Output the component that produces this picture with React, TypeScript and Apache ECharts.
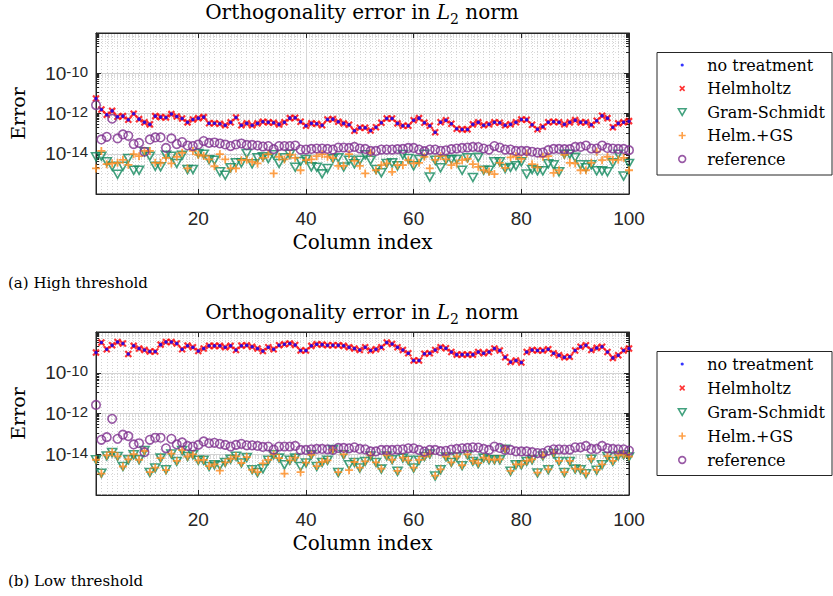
import React, { useEffect, useRef } from "react";
import * as echarts from "echarts";

// ---------- data (log10 of the orthogonality error, columns 1..100) ----------
const seriesNames = ["no treatment", "Helmholtz", "Gram-Schmidt", "Helm.+GS", "reference"];
const xTickValues = [20, 40, 60, 80, 100];
const yLabelExponents = [-14, -12, -10];
const captions = ["(a) High threshold", "(b) Low threshold"];
const panelTitle = "Orthogonality error in {it|L}{sub|2} norm";

const highHelmholtz = [
  -11.25, -11.8, -12.06, -11.87, -12.16, -12.13, -12.31, -12.01, -12.28, -12.44,
  -12.54, -12.13, -12.18, -12.2, -12.03, -12.15, -12.25, -12.44, -12.3, -12.23,
  -12.18, -12.48, -12.48, -12.51, -12.58, -12.44, -12.2, -12.58, -12.49, -12.58,
  -12.49, -12.41, -12.44, -12.46, -12.54, -12.43, -12.23, -12.21, -12.41, -12.61,
  -12.49, -12.51, -12.58, -12.3, -12.28, -12.41, -12.49, -12.56, -12.86, -12.71,
  -12.71, -12.84, -12.68, -12.46, -12.25, -12.25, -12.49, -12.61, -12.61, -12.34,
  -12.23, -12.46, -12.61, -12.93, -12.43, -12.34, -12.51, -12.76, -12.79, -12.79,
  -12.54, -12.44, -12.58, -12.53, -12.43, -12.46, -12.58, -12.53, -12.43, -12.3,
  -12.31, -12.56, -12.78, -12.66, -12.43, -12.41, -12.43, -12.53, -12.44, -12.33,
  -12.44, -12.44, -12.56, -12.36, -12.11, -12.23, -12.68, -12.49, -12.43, -12.38,
];
// "no treatment" coincides with Helmholtz in this run
const highNoTreatment = highHelmholtz;
const highGramSchmidt = [
  -14.15, -14.12, -14.4, -14.62, -15.02, -14.62, -14.24, -14.82, -14.82, -13.9,
  -14.12, -14.62, -14.65, -14.07, -14.12, -14.48, -14.07, -14.78, -14.78, -13.99,
  -14.02, -14.3, -14.32, -14.9, -15.07, -14.7, -14.45, -14.45, -13.99, -14.5,
  -14.2, -14.15, -14.24, -14.05, -14.48, -14.2, -14.03, -14.67, -14.38, -14.28,
  -14.65, -14.67, -15.0, -14.73, -14.25, -14.2, -14.66, -14.32, -14.5, -14.32,
  -14.05, -14.32, -14.78, -14.95, -14.48, -14.45, -14.6, -14.04, -14.24, -14.6,
  -14.28, -14.02, -15.16, -14.32, -14.7, -14.3, -14.28, -14.28, -14.82, -14.2,
  -15.18, -14.18, -14.82, -14.82, -14.4, -14.4, -14.73, -14.68, -14.6, -14.4,
  -15.01, -14.78, -14.85, -14.85, -14.5, -14.55, -14.9, -14.02, -14.02, -14.18,
  -14.55, -14.7, -14.55, -14.85, -14.85, -14.9, -14.45, -14.02, -15.11, -14.48,
];
const highHelmGS = [
  -14.73, -13.86, -14.52, -14.48, -14.45, -14.3, -14.55, -14.02, -14.12, -13.86,
  -13.86, -14.45, -14.45, -14.2, -14.48, -14.15, -13.95, -14.73, -13.86, -14.05,
  -14.1, -14.28, -14.62, -14.02, -14.28, -14.73, -14.73, -14.32, -14.3, -14.4,
  -14.48, -14.2, -14.02, -14.98, -14.15, -14.28, -14.05, -14.2, -14.82, -14.32,
  -14.28, -14.12, -14.02, -14.15, -14.22, -14.6, -14.6, -14.02, -14.35, -14.6,
  -14.98, -13.95, -14.82, -14.57, -14.48, -14.9, -14.57, -14.57, -14.32, -14.48,
  -14.45, -14.15, -14.73, -14.3, -14.12, -14.28, -14.57, -14.48, -14.32, -14.25,
  -14.52, -14.65, -14.82, -14.9, -15.01, -14.45, -14.7, -14.18, -14.12, -14.25,
  -13.99, -14.52, -14.68, -14.15, -14.12, -14.95, -14.82, -14.05, -14.45, -14.48,
  -14.82, -14.82, -14.45, -13.9, -14.32, -14.15, -14.3, -14.3, -14.2, -14.82,
];
const reference = [
  -11.58, -13.29, -13.16, -12.26, -13.24, -13.04, -13.11, -13.52, -13.46, -13.9,
  -13.29, -13.19, -13.19, -13.71, -13.24, -13.52, -13.42, -13.59, -13.62, -13.54,
  -13.37, -13.46, -13.44, -13.49, -13.54, -13.62, -13.54, -13.49, -13.56, -13.56,
  -13.59, -13.64, -13.62, -13.77, -13.62, -13.62, -13.62, -13.59, -13.79, -13.79,
  -13.76, -13.74, -13.74, -13.76, -13.79, -13.69, -13.69, -13.71, -13.66, -13.74,
  -13.76, -13.86, -13.86, -13.79, -13.79, -13.79, -13.77, -13.76, -13.71, -13.71,
  -13.79, -13.87, -13.79, -13.79, -13.85, -13.83, -13.77, -13.74, -13.71, -13.69,
  -13.66, -13.67, -13.74, -13.79, -13.62, -13.69, -13.79, -13.79, -13.86, -13.86,
  -13.86, -13.9, -13.94, -13.94, -13.82, -13.76, -13.76, -13.77, -13.77, -13.66,
  -13.66, -13.59, -13.74, -13.74, -13.59, -13.71, -13.74, -13.76, -13.76, -13.82,
];

const lowHelmholtz = [
  -9.01, -8.52, -8.85, -8.65, -8.49, -8.56, -9.08, -8.68, -8.81, -8.88,
  -8.96, -8.96, -8.62, -8.49, -8.49, -8.56, -8.85, -8.67, -8.75, -8.93,
  -8.81, -8.68, -8.68, -8.68, -8.75, -8.68, -8.88, -8.67, -8.65, -8.72,
  -8.81, -8.93, -8.75, -8.85, -8.65, -8.6, -8.56, -8.64, -8.91, -8.91,
  -8.68, -8.6, -8.62, -8.65, -8.65, -8.65, -8.68, -8.75, -8.81, -8.88,
  -8.75, -8.91, -8.85, -8.75, -8.52, -8.59, -8.75, -8.88, -9.04, -9.4,
  -9.4, -9.07, -9.04, -8.88, -8.75, -8.8, -8.98, -9.11, -9.11, -9.11,
  -9.11, -8.98, -9.04, -8.98, -8.81, -8.91, -9.24, -9.47, -9.4, -9.5,
  -8.98, -8.88, -8.91, -8.91, -8.85, -9.04, -9.14, -9.24, -9.21, -8.91,
  -8.72, -8.65, -8.88, -8.78, -8.72, -8.98, -9.27, -9.14, -8.91, -8.81,
];
const lowNoTreatment = lowHelmholtz;
const lowGramSchmidt = [
  -14.27, -14.93, -14.08, -13.92, -14.11, -14.6, -14.27, -14.03, -14.27, -13.82,
  -14.9, -14.68, -14.19, -14.76, -13.99, -14.35, -13.82, -14.11, -14.03, -14.3,
  -14.3, -14.6, -14.52, -14.55, -14.4, -14.24, -14.1, -14.43, -14.16, -14.76,
  -14.9, -14.71, -14.3, -14.03, -14.19, -14.52, -14.3, -14.19, -14.6, -14.43,
  -14.03, -14.6, -14.4, -14.3, -13.77, -14.9, -14.03, -14.52, -14.4, -14.68,
  -14.35, -14.08, -14.4, -14.73, -14.08, -14.27, -14.84, -14.19, -14.3, -14.68,
  -14.3, -14.11, -13.99, -15.07, -14.76, -14.13, -14.4, -14.13, -14.56, -14.03,
  -14.35, -14.46, -14.19, -14.27, -14.27, -14.27, -13.75, -14.84, -14.52, -14.52,
  -14.35, -14.27, -14.92, -14.08, -14.76, -13.96, -14.35, -14.9, -14.35, -14.73,
  -14.76, -14.96, -14.24, -14.79, -14.52, -14.11, -14.35, -14.08, -14.03, -14.13,
];
const lowHelmGS = [
  -14.27, -14.95, -14.06, -13.9, -14.1, -14.6, -14.25, -14.0, -14.27, -13.84,
  -14.88, -14.66, -14.19, -14.78, -13.97, -14.33, -13.8, -14.11, -14.01, -14.3,
  -14.28, -14.58, -14.5, -14.8, -14.4, -14.22, -14.1, -14.43, -14.14, -14.76,
  -14.88, -14.45, -14.28, -14.01, -14.19, -14.95, -14.3, -14.17, -14.88, -14.41,
  -14.03, -14.58, -14.38, -14.3, -13.79, -14.88, -14.01, -14.78, -14.38, -14.66,
  -14.35, -14.06, -14.4, -14.71, -14.06, -14.27, -14.82, -14.17, -14.3, -14.66,
  -14.28, -14.11, -13.97, -15.05, -14.74, -14.11, -14.4, -14.11, -14.54, -14.01,
  -14.33, -14.44, -14.17, -14.25, -14.27, -14.25, -13.73, -14.82, -14.5, -14.5,
  -14.33, -14.25, -14.9, -14.06, -14.74, -13.94, -14.33, -14.88, -14.33, -14.71,
  -14.74, -14.94, -14.22, -14.77, -14.5, -14.09, -14.33, -14.06, -14.01, -14.11,
];

// ---------- styling ----------
const AX = "#262626";
const SERIF = "DejaVu Serif";
const SANS = "Liberation Sans";
const BLUE = "#0000ff";
const RED = "#ff0000";
const GREEN = "#138a5e";
const ORANGE = "#ff8a1c";
const PURPLE = "#7e2f8e";
const CLEAR = "rgba(0,0,0,0)";

const X_SYMBOL = "path://M0,0L10,10M10,0L0,10";
const PLUS_SYMBOL = "path://M5,0L5,10M0,5L10,5";

const LEGEND_ICON: Record<string, string> = {
  "no treatment": "path://M0,0M10,10M5,3.4A1.6,1.6,0,1,1,5,6.6A1.6,1.6,0,1,1,5,3.4Z",
  Helmholtz: "path://M0,0M10,10M2.6,2.6L7.4,7.4M7.4,2.6L2.6,7.4",
  "Gram-Schmidt": "path://M0,0M10,10M1.2,1.8L8.8,1.8L5,8.4Z",
  "Helm.+GS": "path://M0,0M10,10M5,1.5L5,8.5M1.5,5L8.5,5",
  reference: "path://M0,0M10,10M5,1.6A3.4,3.4,0,1,1,5,8.4A3.4,3.4,0,1,1,5,1.6Z",
};
const LEGEND_STYLE: Record<string, any> = {
  "no treatment": { color: BLUE, borderWidth: 0 },
  Helmholtz: { color: CLEAR, borderColor: RED, borderWidth: 1.6 },
  "Gram-Schmidt": { color: CLEAR, borderColor: GREEN, borderWidth: 1.6 },
  "Helm.+GS": { color: CLEAR, borderColor: ORANGE, borderWidth: 1.6 },
  reference: { color: CLEAR, borderColor: PURPLE, borderWidth: 1.6 },
};

const GRIDS = [
  { left: 96, top: 33, width: 533, height: 161 },
  { left: 96, top: 332, width: 533, height: 163 },
];
const TITLE_TOP = [0, 300];
const LEGEND_TOP = [55, 354];
const LEGEND_GAP = [3.5, 4];
const LEGEND_BOX = [
  { y: 52.5, h: 122.5 },
  { y: 351.5, h: 124 },
];
const CAPTION_Y = [283, 581];

const toPoints = (exps: number[]) => exps.map((e, i) => [i + 1, Math.pow(10, e)]);

const panels = [
  { helm: highHelmholtz, none: highNoTreatment, gs: highGramSchmidt, hgs: highHelmGS, ref: reference },
  { helm: lowHelmholtz, none: lowNoTreatment, gs: lowGramSchmidt, hgs: lowHelmGS, ref: reference },
];

function buildOption() {
  const xAxis: any[] = [];
  const yAxis: any[] = [];
  const series: any[] = [];
  const title: any[] = [];
  const legend: any[] = [];
  const graphic: any[] = [];

  panels.forEach((p, gi) => {
    xAxis.push(
      {
        gridIndex: gi, type: "value", min: 1, max: 100, position: "bottom",
        name: "Column index", nameLocation: "middle", nameGap: 38,
        nameTextStyle: { fontFamily: SERIF, fontSize: 20, color: "#000" },
        axisLine: { show: true, lineStyle: { color: AX, width: 1 } },
        axisTick: { show: true, inside: true, length: 5, customValues: xTickValues, lineStyle: { color: AX } },
        axisLabel: { customValues: xTickValues, fontFamily: SANS, fontSize: 19, color: AX, margin: 15 },
        splitLine: { show: true, lineStyle: { color: "#d6d6d6", width: 1 } },
        minorTick: { show: false, splitNumber: 20 },
        minorSplitLine: { show: true, lineStyle: { color: "#d2d2d2", width: 1, type: [1, 2] } },
      },
      {
        gridIndex: gi, type: "value", min: 1, max: 100, position: "top",
        axisLine: { show: true, lineStyle: { color: AX, width: 1 } },
        axisTick: { show: true, inside: true, length: 5, customValues: xTickValues, lineStyle: { color: AX } },
        axisLabel: { show: false },
        splitLine: { show: false },
      }
    );
    yAxis.push(
      {
        gridIndex: gi, type: "log", logBase: 10, min: 1e-16, max: 1e-8, interval: 2, position: "left",
        name: "Error", nameLocation: "middle", nameGap: 69, nameRotate: 90,
        nameTextStyle: { fontFamily: SERIF, fontSize: 19, color: "#000" },
        axisLine: { show: true, lineStyle: { color: AX, width: 1 } },
        axisTick: { show: true, inside: true, length: 5, lineStyle: { color: AX } },
        minorTick: { show: true, splitNumber: 10, length: 3, lineStyle: { color: AX } },
        axisLabel: {
          margin: 8,
          formatter: (v: number) => {
            const e = Math.round(Math.log10(v));
            return yLabelExponents.includes(e) ? `{b|10}{s|${e}}` : "";
          },
          rich: {
            b: { fontFamily: SANS, fontSize: 19, color: AX, lineHeight: 19, verticalAlign: "bottom" },
            s: { fontFamily: SANS, fontSize: 15, color: AX, lineHeight: 15, padding: [0, 0, 7, 0], verticalAlign: "top" },
          },
        },
        splitLine: { show: true, lineStyle: { color: "#d2d2d2", width: 1 } },
        minorSplitLine: { show: true, lineStyle: { color: "#dadada", width: 1, type: [1, 2] } },
      },
      {
        gridIndex: gi, type: "log", logBase: 10, min: 1e-16, max: 1e-8, interval: 2, position: "right",
        axisLine: { show: true, lineStyle: { color: AX, width: 1 } },
        axisTick: { show: true, inside: true, length: 5, lineStyle: { color: AX } },
        minorTick: { show: true, splitNumber: 10, length: 3, lineStyle: { color: AX } },
        axisLabel: { show: false },
        splitLine: { show: false },
      }
    );
    const xi = gi * 2;
    const yi = gi * 2;
    series.push(
      {
        name: "Helmholtz", type: "scatter", xAxisIndex: xi, yAxisIndex: yi, data: toPoints(p.helm),
        symbol: X_SYMBOL, symbolSize: 6, itemStyle: { color: CLEAR, borderColor: RED, borderWidth: 2.2 }, z: 2,
      },
      {
        name: "no treatment", type: "scatter", xAxisIndex: xi, yAxisIndex: yi, data: toPoints(p.none),
        symbol: "circle", symbolSize: 3.5, itemStyle: { color: BLUE }, z: 3,
      },
      {
        name: "Gram-Schmidt", type: "scatter", xAxisIndex: xi, yAxisIndex: yi, data: toPoints(p.gs),
        symbol: "triangle", symbolRotate: 180, symbolSize: [9, 8],
        itemStyle: { color: CLEAR, borderColor: GREEN, borderWidth: 1.6 }, z: 2,
      },
      {
        name: "Helm.+GS", type: "scatter", xAxisIndex: xi, yAxisIndex: yi, data: toPoints(p.hgs),
        symbol: PLUS_SYMBOL, symbolSize: 8, itemStyle: { color: CLEAR, borderColor: ORANGE, borderWidth: 1.8 }, z: 2,
      },
      {
        name: "reference", type: "scatter", xAxisIndex: xi, yAxisIndex: yi, data: toPoints(p.ref),
        symbol: "circle", symbolSize: 8.5, itemStyle: { color: CLEAR, borderColor: PURPLE, borderWidth: 1.6 }, z: 2,
      }
    );
    title.push({
      text: panelTitle, left: 362, top: TITLE_TOP[gi], textAlign: "center", padding: 0,
      textStyle: {
        fontFamily: SERIF, fontSize: 20, fontWeight: "normal", color: "#000", lineHeight: 24,
        rich: {
          it: { fontFamily: SERIF, fontSize: 20, fontStyle: "italic", fontWeight: "normal", color: "#000", lineHeight: 24 },
          sub: { fontFamily: SERIF, fontSize: 14, fontWeight: "normal", color: "#000", lineHeight: 14, padding: [13, 0, 0, 0] },
        },
      },
    });
    legend.push({
      orient: "vertical", left: 676.4, top: LEGEND_TOP[gi], padding: 0,
      itemWidth: 40, itemHeight: 10, itemGap: LEGEND_GAP[gi], selectedMode: false, z: 5,
      textStyle: { fontFamily: SERIF, fontSize: 16, color: "#000", lineHeight: 20 },
      data: seriesNames.map((n) => ({ name: n, icon: LEGEND_ICON[n], itemStyle: LEGEND_STYLE[n] })),
    });
    graphic.push(
      {
        type: "rect", z: 1,
        shape: { x: 657, y: LEGEND_BOX[gi].y, width: 175, height: LEGEND_BOX[gi].h },
        style: { fill: "#fff", stroke: AX, lineWidth: 1 },
      },
      {
        type: "text", x: 8, y: CAPTION_Y[gi], z: 1,
        style: { text: captions[gi], fontFamily: SERIF, fontSize: 15, fill: "#000", verticalAlign: "middle" },
      }
    );
  });

  return {
    animation: false,
    backgroundColor: "#fff",
    title,
    legend,
    graphic,
    grid: GRIDS.map((g) => ({ ...g, show: true, borderColor: AX, borderWidth: 1, backgroundColor: "#fff" })),
    xAxis,
    yAxis,
    series,
  };
}

export default function App() {
  const ref = useRef<HTMLDivElement>(null);
  useEffect(() => {
    const chart = echarts.init(ref.current!, undefined, { renderer: "svg" });
    chart.setOption(buildOption() as any);
    return () => chart.dispose();
  }, []);
  return (
    <div
      ref={ref}
      style={{ position: "absolute", left: 0, top: 0, width: 833, height: 596, background: "#fff" }}
    />
  );
}
